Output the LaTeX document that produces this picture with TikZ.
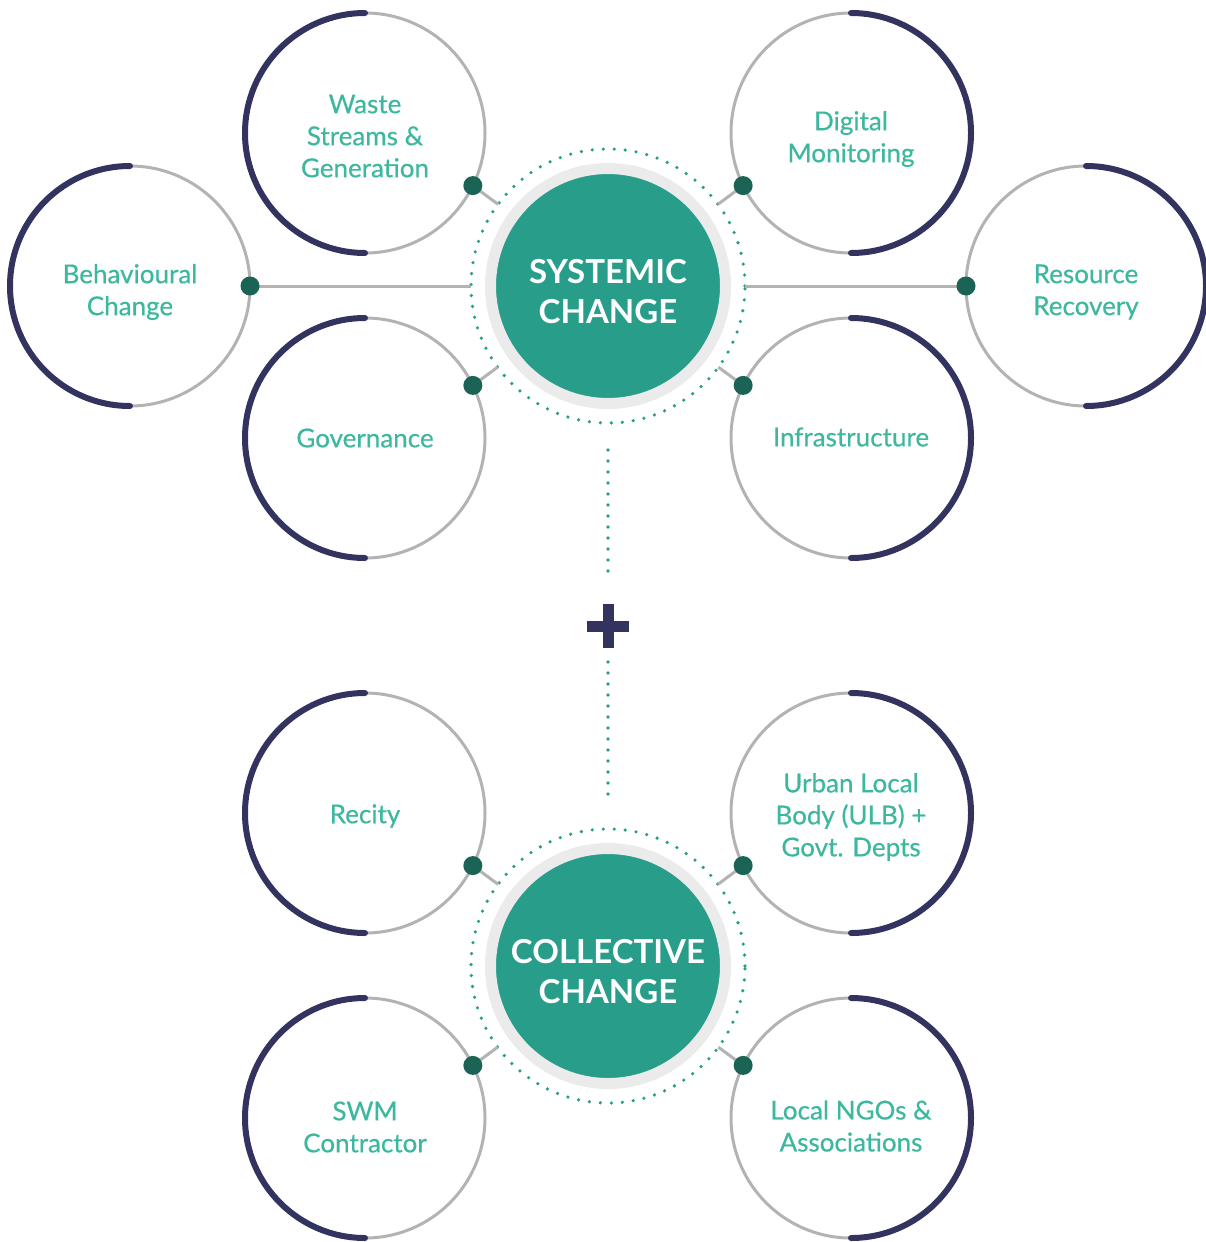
\documentclass[tikz,border=0pt]{standalone}
\usepackage{fontspec}
\setmainfont{Lato}
\newfontfamily\satfont[FakeBold=0.5]{Lato}
\usepackage{tikz}

\definecolor{navy}{HTML}{333360}
\definecolor{hubteal}{HTML}{289E8A}
\definecolor{txtteal}{HTML}{3DB89F}
\definecolor{dotgreen}{HTML}{1B6355}
\definecolor{arcgray}{HTML}{B3B3B3}
\definecolor{ringgray}{HTML}{EBEBEB}

\begin{document}
\begin{tikzpicture}[x=0.5pt,y=-0.5pt,
    hub/.style={circle, fill=hubteal, draw=ringgray, line width=5.5pt, minimum size=117.5pt},
    hubtext/.style={text=white, align=center, font=\fontsize{16.5}{20}\selectfont\bfseries},
    sat/.style={circle, minimum size=120pt, outer sep=0pt},
    sattext/.style={text=txtteal, align=center, font=\fontsize{13}{16}\selectfont\satfont},
    dotring/.style={hubteal, line width=1.8pt, line cap=round, dash pattern=on 0pt off 5.5pt},
    outerarc/.style={navy, line width=3pt, line cap=round},
    innerarc/.style={arcgray, line width=1.5pt},
    link/.style={arcgray, line width=1.5pt, shorten >=68.5pt},
    joint/.style={dotgreen}]
    \useasboundingbox (0,0) rectangle (1205,1242);

    % hubs
    \node[hub, label={[hubtext,yshift=-3pt]center:{SYSTEMIC\\CHANGE}}] (sys) at (608,286) {};
    \node[hub, label={[hubtext,yshift=-3pt]center:{COLLECTIVE\\CHANGE}}] (col) at (608,966) {};
    \draw[dotring] (sys.center) circle (68.5pt);
    \draw[dotring] (col.center) circle (68.5pt);

    % satellites
    \node[sat, label={[sattext,yshift=-1.5pt]center:{Waste\\Streams \&\\Generation}}] (waste) at (365,133) {};
    \node[sat, label={[sattext,yshift=-3pt]center:{Digital\\Monitoring}}] (digital) at (851,133) {};
    \node[sat, label={[sattext,yshift=-3pt]center:{Behavioural\\Change}}] (behav) at (130,286) {};
    \node[sat, label={[sattext,yshift=-3pt]center:{Resource\\Recovery}}] (resource) at (1086,286) {};
    \node[sat, label={[sattext]center:Governance}] (gov) at (365,438) {};
    \node[sat, label={[sattext,yshift=0.5pt]center:Infrastructure}] (infra) at (851,438) {};

    \node[sat, label={[sattext,yshift=-1.5pt]center:Recity}] (recity) at (365,813) {};
    \node[sat, label={[sattext,yshift=-2pt]center:{Urban Local\\Body (ULB) +\\Govt. Depts}}] (ulb) at (851,813) {};
    \node[sat, label={[sattext,yshift=-4.5pt]center:{SWM\\Contractor}}] (swm) at (365,1118) {};
    \node[sat, label={[sattext,yshift=-4pt]center:{Local NGOs \&\\Associations}}] (ngo) at (851,1118) {};

    \foreach \s in {waste,behav,gov,recity,swm} {
        \draw[innerarc] (\s.south) arc[start angle=-90, end angle=90, radius=60pt];
        \draw[outerarc] (\s.north) arc[start angle=90, end angle=270, radius=60pt];
    }
    \foreach \s in {digital,resource,infra,ulb,ngo} {
        \draw[innerarc] (\s.north) arc[start angle=90, end angle=270, radius=60pt];
        \draw[outerarc] (\s.south) arc[start angle=-90, end angle=90, radius=60pt];
    }

    % links to the hubs
    \foreach \s/\a/\h in {waste/-26/sys, digital/206/sys, behav/0/sys, resource/180/sys,
                          gov/26/sys, infra/154/sys,
                          recity/-26/col, ulb/206/col, swm/26/col, ngo/154/col} {
        \draw[link] (\s.\a) -- (\h.center);
        \fill[joint] (\s.\a) circle (4.75pt);
    }

    % plus between the hubs
    \coordinate (plus) at (608,626);
    \draw[dotring, shorten <=82pt, shorten >=25pt] (sys.center) -- (plus);
    \draw[dotring, shorten <=18pt, shorten >=86pt] (plus) -- (col.center);
    \draw[navy, line width=5.5pt] (plus) ++(-10.5pt,0) -- ++(21pt,0)
                                  (plus) ++(0,-11pt) -- ++(0,22pt);
\end{tikzpicture}
\end{document}
